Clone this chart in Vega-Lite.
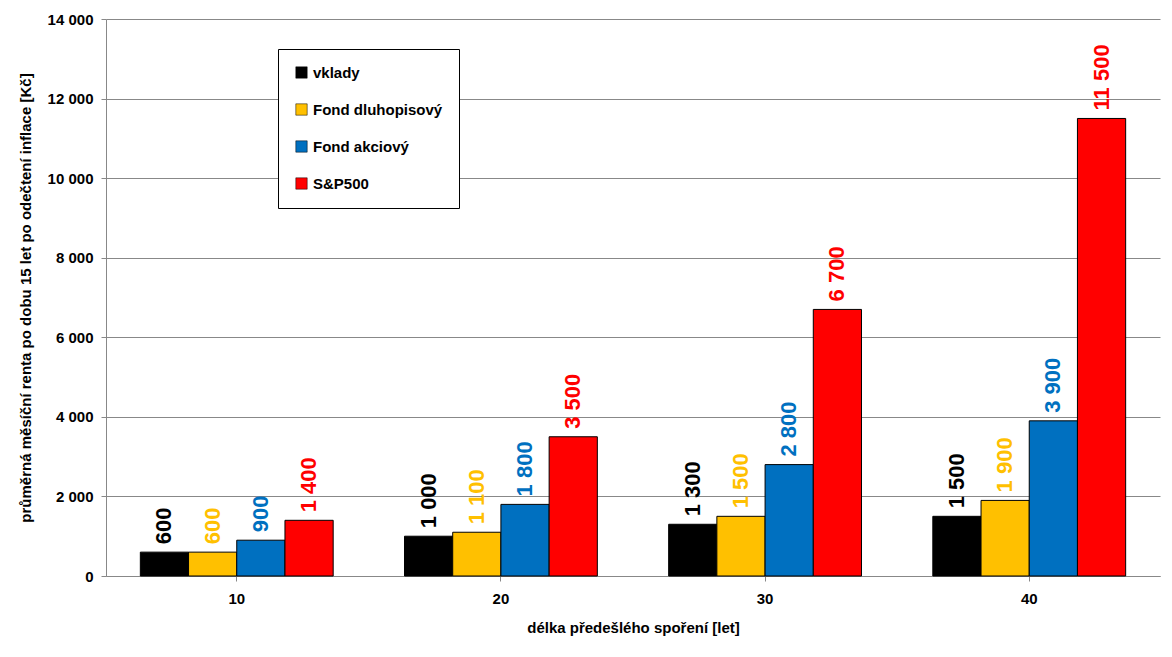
{
"$schema":"https://vega.github.io/schema/vega-lite/v6.json",
"autosize":{"type":"fit","contains":"padding"},
"width":1172,"height":657,
"padding":{"left":18,"top":12,"right":12,"bottom":22},
"background":"white",
"config":{
 "locale":{"number":{"decimal":",","thousands":" ","grouping":[3],"currency":["","Kč"]}},
 "font":"Liberation Sans",
 "view":{"stroke":null},
 "axis":{"labelFont":"Liberation Sans","titleFont":"Liberation Sans","labelFontWeight":"bold","titleFontWeight":"bold","labelFontSize":15,"titleFontSize":15,"labelColor":"black","titleColor":"black"}
},
"data":{"values":[
{"d":"10","s":"vklady","v":600},{"d":"10","s":"Fond dluhopisový","v":600},{"d":"10","s":"Fond akciový","v":900},{"d":"10","s":"S&P500","v":1400},
{"d":"20","s":"vklady","v":1000},{"d":"20","s":"Fond dluhopisový","v":1100},{"d":"20","s":"Fond akciový","v":1800},{"d":"20","s":"S&P500","v":3500},
{"d":"30","s":"vklady","v":1300},{"d":"30","s":"Fond dluhopisový","v":1500},{"d":"30","s":"Fond akciový","v":2800},{"d":"30","s":"S&P500","v":6700},
{"d":"40","s":"vklady","v":1500},{"d":"40","s":"Fond dluhopisový","v":1900},{"d":"40","s":"Fond akciový","v":3900},{"d":"40","s":"S&P500","v":11500}
]},
"encoding":{
 "x":{"field":"d","type":"nominal","title":"délka předešlého spoření [let]","scale":{"paddingInner":0.27,"paddingOuter":0.13},"axis":{"labelAngle":0,"domainColor":"#888","tickColor":"#888","ticks":true,"labelPadding":10,"titlePadding":14}},
 "xOffset":{"field":"s","type":"nominal","sort":["vklady","Fond dluhopisový","Fond akciový","S&P500"]},
 "y":{"field":"v","type":"quantitative","title":"průměrná měsíční renta po dobu 15 let po odečtení inflace [Kč]","scale":{"domain":[0,14000]},"axis":{"values":[0,2000,4000,6000,8000,10000,12000,14000],"format":",d","gridColor":"#888","domainColor":"#888","tickColor":"#888","titlePadding":14,"labelPadding":8}},
 "color":{"field":"s","type":"nominal","sort":["vklady","Fond dluhopisový","Fond akciový","S&P500"],"scale":{"domain":["vklady","Fond dluhopisový","Fond akciový","S&P500"],"range":["#000000","#FFC000","#0070C0","#FF0000"]}}
},
"layer":[
 {"mark":{"type":"bar","stroke":"black","strokeWidth":1},
  "encoding":{"color":{"field":"s","type":"nominal","sort":["vklady","Fond dluhopisový","Fond akciový","S&P500"],"scale":{"domain":["vklady","Fond dluhopisový","Fond akciový","S&P500"],"range":["#000000","#FFC000","#0070C0","#FF0000"]},
   "legend":{"title":null,"orient":"none","legendX":172,"legendY":30,"symbolType":"square","symbolSize":130,"symbolStrokeColor":"black","symbolStrokeWidth":0.5,"labelFontSize":15,"labelFontWeight":"bold","labelFont":"Liberation Sans","rowPadding":21,"padding":16,"strokeColor":"black","fillColor":"white","labelLimit":200,"offset":0}}}},
 {"mark":{"type":"text","angle":270,"align":"left","baseline":"middle","dx":8,"fontSize":22,"fontWeight":"bold","font":"Liberation Sans"},
  "encoding":{"text":{"field":"v","type":"quantitative","format":",d"}}}
]
}
